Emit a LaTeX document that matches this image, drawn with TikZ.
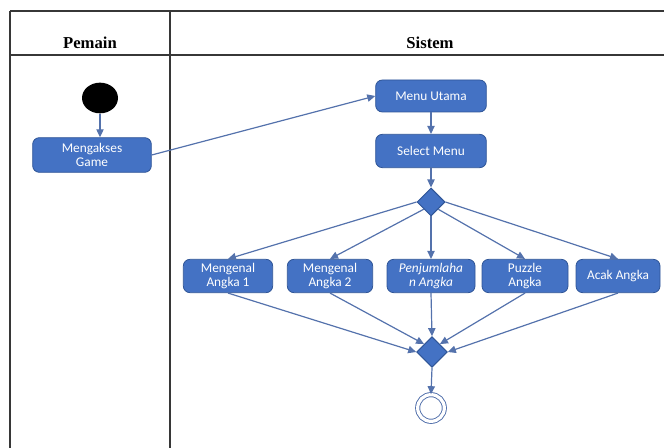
\documentclass[tikz,border=0pt]{standalone}
\usepackage{fontspec}
\setmainfont{Liberation Serif}
\newfontfamily\boxfont{Carlito}
\usetikzlibrary{arrows.meta,shapes.geometric}

\definecolor{actblue}{RGB}{68,114,196}
\definecolor{actedge}{RGB}{47,85,151}
\definecolor{flowblue}{RGB}{84,114,172}
\definecolor{lanegray}{RGB}{55,55,55}

\tikzset{every picture/.style={line width=0.75pt}}
\tikzset{
  lane/.style={draw=lanegray, line width=1.1pt},
  header/.style={font=\bfseries\fontsize{12.5}{14}\selectfont},
  action/.style={draw=actedge, fill=actblue, rounded corners=5pt, text=white,
    font=\boxfont\fontsize{10}{11}\selectfont, align=center, inner sep=0pt, line width=0.6pt},
  decision/.style={diamond, draw=actedge, fill=actblue, inner sep=0pt, aspect=1},
  flow/.style={draw=flowblue, line width=0.9pt, -{Triangle[length=6pt,width=5.5pt]}}
}

\begin{document}
\begin{tikzpicture}[x=0.75pt,y=0.75pt,yscale=-1,xscale=1]
\useasboundingbox (0,0) rectangle (664,448);

%Swimlanes
\draw[lane] (10,11) -- (664,11) ;
\draw[lane] (10,55) -- (664,55) ;
\draw[lane] (10,11) -- (10,448) ;
\draw[lane] (170,11) -- (170,448) ;

% Text Node
\node[header] (pemain) at (90,43) {Pemain};
% Text Node
\node[header] (sistem) at (430,43) {Sistem};

%Shape: Start
\node[ellipse, fill=black, minimum width=27pt, minimum height=23pt, inner sep=0pt] (start) at (100,98) {};
%Shape: Actions
\node[action, minimum width=89pt, minimum height=26pt] (game) at (92,155) {Mengakses\\Game};
\node[action, minimum width=83pt, minimum height=24pt] (menu) at (431,96) {Menu Utama};
\node[action, minimum width=83pt, minimum height=25pt] (select) at (431,151) {Select Menu};
%Shape: Decision
\node[decision, minimum size=21pt] (pilih) at (431,202) {};
%Shape: Games
\node[action, minimum width=67pt, minimum height=25pt] (angkasatu) at (228,276) {Mengenal\\Angka 1};
\node[action, minimum width=64pt, minimum height=25pt] (angkadua) at (330,276) {Mengenal\\Angka 2};
\node[action, minimum width=66pt, minimum height=25pt, font=\boxfont\itshape\fontsize{10}{11}\selectfont] (jumlah) at (431,276) {Penjumlaha\\n Angka};
\node[action, minimum width=64.5pt, minimum height=25pt] (puzzle) at (525,276) {Puzzle\\Angka};
\node[action, minimum width=63pt, minimum height=25pt] (acak) at (618,276) {Acak Angka};
%Shape: Merge
\node[decision, minimum size=23pt] (gabung) at (432,352) {};
%Shape: End
\node[circle, draw=flowblue, line width=0.7pt, double=white, double distance=2.4pt, minimum size=20pt, inner sep=0pt] (selesai) at (431,408) {};

%Flows
\draw[flow] (start) -- (start |- game.north) ;
\draw[flow] (game.east) -- (menu.west) ;
\draw[flow] (menu) -- (select) ;
\draw[flow] (select) -- (pilih) ;
\draw[flow] (pilih.west) -- (angkasatu.north) ;
\draw[flow] (pilih.south west) -- (angkadua.north) ;
\draw[flow] (pilih.south) -- (jumlah.north) ;
\draw[flow] (pilih.south east) -- (puzzle.north) ;
\draw[flow] (pilih.east) -- (acak.north) ;
\draw[flow] (angkasatu.south) -- (gabung.west) ;
\draw[flow] (angkadua.south) -- (gabung.north west) ;
\draw[flow] (jumlah.south) -- (gabung.north) ;
\draw[flow] (puzzle.south) -- (gabung.north east) ;
\draw[flow] (acak.south) -- (gabung.east) ;
\draw[flow] (gabung.south) -- (selesai.north) ;

\end{tikzpicture}
\end{document}
